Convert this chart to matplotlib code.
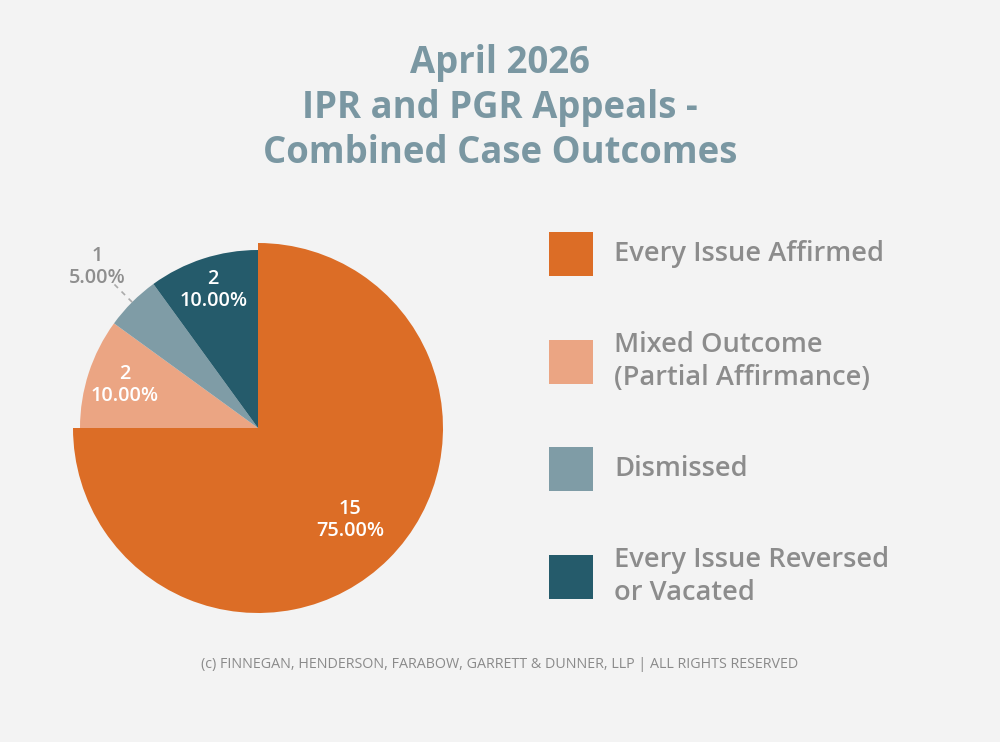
import matplotlib
matplotlib.use("Agg")
import matplotlib.pyplot as plt
from matplotlib.patches import Rectangle
import numpy as np

# ---- data ----
categories = ["Every Issue Affirmed", "Mixed Outcome\n(Partial Affirmance)",
              "Dismissed", "Every Issue Reversed\nor Vacated"]
counts = [15, 2, 1, 2]
colors = ["#DC6D26", "#EBA583", "#7F9CA6", "#255B6B"]
title_lines = ["April 2026", "IPR and PGR Appeals -", "Combined Case Outcomes"]
footer = "(c) FINNEGAN, HENDERSON, FARABOW, GARRETT & DUNNER, LLP | ALL RIGHTS RESERVED"

W, H = 1000, 742
BG = "#F3F3F3"
FONT = "Open Sans"
fig = plt.figure(figsize=(W / 100, H / 100), dpi=100, facecolor=BG)

def fx(px):
    return px / W

def fy(py):
    return 1 - py / H

# pie axes: square, centred at pixel (258, 428), 400 px side
cx, cy, side = 258, 428, 400
ax = fig.add_axes([fx(cx - side / 2), fy(cy + side / 2), side / W, side / H])
ax.set_facecolor(BG)
ax.axis("off")

R = 178
wedges, _ = ax.pie(counts, colors=colors, startangle=90, counterclock=False,
                   radius=R, wedgeprops=dict(linewidth=0))
wedges[0].set_radius(185)
ax.set_xlim(-side / 2, side / 2)
ax.set_ylim(-side / 2, side / 2)
ax.set_aspect("equal")

total = sum(counts)
label_r = [130, 140, 228, 145]
label_col = ["white", "white", "#8E8E8E", "white"]
for w, c, r, col in zip(wedges, counts, label_r, label_col):
    mid = np.deg2rad((w.theta1 + w.theta2) / 2)
    x, y = r * np.cos(mid), r * np.sin(mid)
    ax.text(x, y, f"{c}\n{100 * c / total:.2f}%", ha="center", va="center",
            fontsize=14.3, color=col, family=FONT, fontweight="semibold",
            linespacing=1.15)
    if r > R:
        ax.plot([R * np.cos(mid), 205 * np.cos(mid)], [R * np.sin(mid), 205 * np.sin(mid)],
                ls=(0, (3, 3)), color="#AAAAAA", lw=1.2)

# title
fig.text(0.5, fy(108), "\n".join(title_lines), ha="center", va="center",
         fontsize=26.3, fontweight="bold", family=FONT, color="#7A97A2",
         linespacing=1.25)

# legend
leg_y0, leg_step = 254, 107.5
for i, (cat, col) in enumerate(zip(categories, colors)):
    yc = leg_y0 + i * leg_step
    fig.add_artist(Rectangle((fx(549), fy(yc + 22)), 44 / W, 44 / H,
                             transform=fig.transFigure, color=col, lw=0))
    fig.text(fx(614), fy(yc), cat, ha="left", va="center", fontsize=19.6,
             family=FONT, fontweight="semibold", color="#8C8C8C",
             linespacing=1.22)

fig.text(0.5, fy(665), footer, ha="center", va="center", fontsize=10.3,
         family=FONT, color="#8A8A8A")

fig.savefig("out.png", dpi=100, facecolor=BG)
